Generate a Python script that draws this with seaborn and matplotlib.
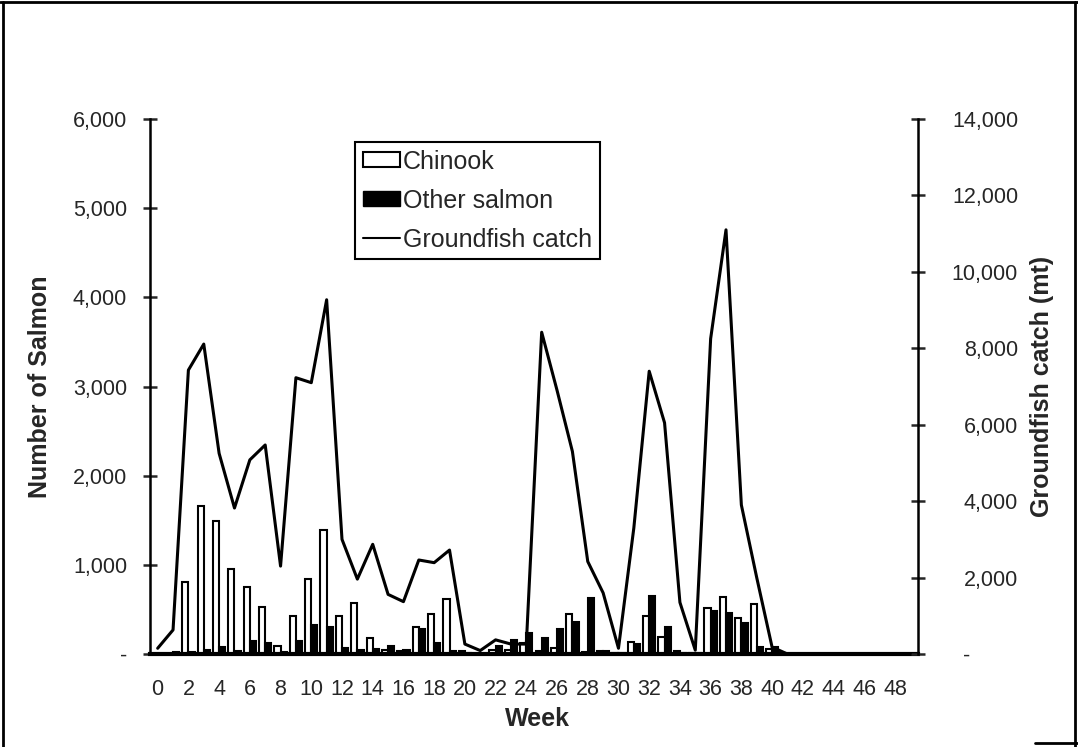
import pandas as pd
import matplotlib
matplotlib.use('Agg')
import matplotlib.pyplot as plt
import seaborn as sns
from matplotlib.patches import Patch
from matplotlib.lines import Line2D

# Weekly values
weeks = list(range(50))
chinook = [0, 0, 810, 1660, 1490, 950, 750, 530, 90, 430,
           840, 1390, 430, 570, 175, 40, 30, 305, 445, 620,
           30, 0, 50, 50, 120, 30, 70, 445, 20, 30,
           10, 140, 425, 190, 35, 10, 520, 635, 400, 560,
           60, 0, 0, 0, 0, 0, 0, 0, 0, 0]
other_salmon = [0, 20, 25, 40, 80, 30, 145, 120, 25, 145,
                320, 305, 65, 50, 55, 90, 40, 275, 120, 30,
                10, 0, 90, 160, 240, 185, 275, 360, 630, 30,
                10, 110, 655, 300, 15, 10, 480, 465, 350, 75,
                80, 0, 0, 0, 0, 0, 0, 0, 0, 0]
groundfish = [150, 630, 7430, 8110, 5250, 3820, 5080, 5470, 2300, 7230,
              7100, 9270, 3000, 1960, 2870, 1560, 1370, 2460, 2390, 2720,
              260, 90, 370, 260, 260, 8420, 6900, 5300, 2420, 1600,
              150, 3300, 7400, 6050, 1350, 100, 8250, 11100, 3900, 2000,
              180, 0, 0, 0, 0, 0, 0, 0, 0, 0]

left_ticks = [0, 1000, 2000, 3000, 4000, 5000, 6000]
left_labels = ['-', '1,000', '2,000', '3,000', '4,000', '5,000', '6,000']
right_ticks = [0, 2000, 4000, 6000, 8000, 10000, 12000, 14000]
right_labels = ['-        ', '2,000', '4,000', '6,000', '8,000', '10,000', '12,000', '14,000']

sns.set_style('white')
plt.rcParams['font.family'] = ['Liberation Sans', 'DejaVu Sans']

df = pd.DataFrame({
    'Week': weeks * 2,
    'Salmon': chinook + other_salmon,
    'Species': ['Chinook'] * len(weeks) + ['Other salmon'] * len(weeks),
})

fig = plt.figure(figsize=(10.78, 7.47), dpi=100)
ax = fig.add_axes([150 / 1078, 1 - 654 / 747, (918 - 150) / 1078, (654 - 119) / 747])

sns.barplot(data=df, x='Week', y='Salmon', hue='Species',
            palette={'Chinook': 'white', 'Other salmon': 'black'},
            edgecolor='black', linewidth=1.5, width=0.8, saturation=1,
            errorbar=None, legend=False, ax=ax)

ax.set_xlim(-0.5, 49.5)
ax.set_ylim(0, 6000)
ax.set_yticks(left_ticks)
ax.set_yticklabels(left_labels)
ax.set_xticks(range(0, 49, 2))
ax.set_xticklabels([str(w) for w in range(0, 49, 2)])
ax.set_xticks([w - 0.5 for w in range(51)], minor=True)
ax.tick_params(axis='x', which='major', length=0, labelsize=15.5, pad=18)
ax.tick_params(axis='x', which='minor', length=4, width=1.5, direction='out')
ax.tick_params(axis='y', direction='inout', length=10, width=1.8, labelsize=15.5, pad=11.5)

for side in ['top', 'right']:
    ax.spines[side].set_visible(False)
ax.spines['left'].set_linewidth(1.8)
ax.spines['bottom'].set_linewidth(3)
ax.spines['left'].set_color('black')
ax.spines['bottom'].set_color('black')

ax.set_xlabel('Week', fontsize=18, fontweight='bold')
ax.set_ylabel('Number of Salmon', fontsize=18, fontweight='bold')
ax.xaxis.set_label_coords(0.504, -0.1)
ax.yaxis.set_label_coords(-0.128, 0.5)

# Groundfish catch on the secondary axis
ax2 = ax.twinx()
sns.lineplot(x=weeks, y=groundfish, color='black', linewidth=2.2, ax=ax2)
ax2.set_xlim(-0.5, 49.5)
ax2.set_ylim(0, 14000)
ax2.set_yticks(right_ticks)
ax2.set_yticklabels(right_labels)
ax2.tick_params(axis='y', direction='inout', length=10, width=1.8, labelsize=15.5, pad=67)
for lab in ax2.get_yticklabels():
    lab.set_horizontalalignment('right')
for side in ['top', 'left', 'bottom']:
    ax2.spines[side].set_visible(False)
ax2.spines['right'].set_linewidth(1.8)
ax2.spines['right'].set_color('black')
ax2.set_ylabel('Groundfish catch (mt)', fontsize=18, fontweight='bold')
ax2.yaxis.set_label_coords(1.146, 0.5)

handles = [
    Patch(facecolor='white', edgecolor='black', linewidth=1.5, label='Chinook'),
    Patch(facecolor='black', edgecolor='black', label='Other salmon'),
    Line2D([], [], color='black', linewidth=1.5, label='Groundfish catch'),
]
leg = ax2.legend(handles=handles, loc='upper left', bbox_to_anchor=(0.267, 0.957),
                 borderaxespad=0, fontsize=18, frameon=True, fancybox=False,
                 framealpha=1, handlelength=1.5, handleheight=0.56,
                 handletextpad=0.12, labelspacing=0.6, borderpad=0.3)
leg.get_frame().set_edgecolor('black')
leg.get_frame().set_linewidth(1.5)

# border around the chart area
for xs, ys in [([0.003, 0.003], [0.0, 0.997]), ([0.0, 1.0], [0.997, 0.997]),
               ([0.997, 0.997], [0.0, 0.997]), ([0.96, 1.0], [0.006, 0.006])]:
    fig.add_artist(Line2D(xs, ys, transform=fig.transFigure, color='black', linewidth=2))

fig.savefig('out.png', dpi=100)
